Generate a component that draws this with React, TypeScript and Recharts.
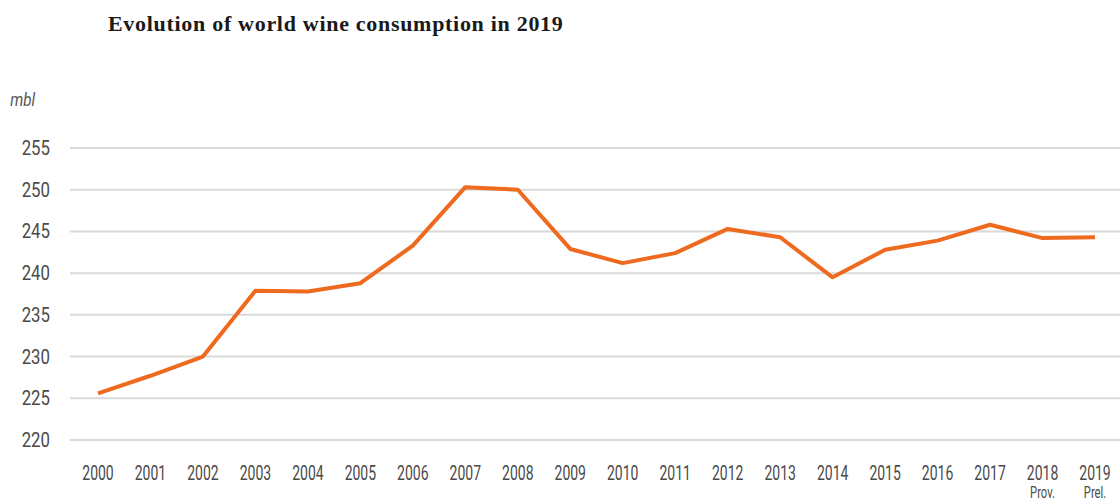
import { CartesianGrid, Line, LineChart, XAxis, YAxis } from "recharts";

const YEARS = [
  "2000", "2001", "2002", "2003", "2004", "2005", "2006", "2007", "2008", "2009",
  "2010", "2011", "2012", "2013", "2014", "2015", "2016", "2017", "2018", "2019",
];
const SUBLABELS: Record<string, string> = { "2018": "Prov.", "2019": "Prel." };
const CONSUMPTION = [
  225.6, 227.7, 230.0, 237.9, 237.8, 238.8, 243.3, 250.3, 250.0, 242.9,
  241.2, 242.4, 245.3, 244.3, 239.5, 242.8, 243.9, 245.8, 244.2, 244.3,
];
const Y_TICKS = [220, 225, 230, 235, 240, 245, 250, 255];

const data = YEARS.map((year, i) => ({ year, value: CONSUMPTION[i] }));

const ORANGE = "#ee6a1e";
const TICK_COLOR = "#4a4a4a";
const TICK_FONT = "Roboto, sans-serif";

// narrow look: squeeze the glyphs horizontally
function YearTick({ x, y, payload }: any) {
  const sub = SUBLABELS[payload.value];
  return (
    <g transform={`translate(${x},${y}) scale(0.7,1)`}>
      <text x={0} y={32} textAnchor="middle" fill={TICK_COLOR} fontSize={20} fontFamily={TICK_FONT}>
        {payload.value}
      </text>
      {sub ? (
        <text x={0} y={50} textAnchor="middle" fill={TICK_COLOR} fontSize={16} fontFamily={TICK_FONT}>
          {sub}
        </text>
      ) : null}
    </g>
  );
}

function ValueTick({ x, y, payload }: any) {
  return (
    <g transform={`translate(${x},${y}) scale(0.8,1)`}>
      <text x={0} y={0} dy={7} textAnchor="end" fill={TICK_COLOR} fontSize={21} fontFamily={TICK_FONT}>
        {payload.value}
      </text>
    </g>
  );
}

export default function App() {
  return (
    <div
      style={{
        position: "absolute",
        top: 0,
        left: 0,
        width: 1120,
        height: 502,
        background: "#fff",
        overflow: "hidden",
      }}
    >
      <div
        style={{
          position: "absolute",
          left: 108,
          top: 11,
          fontFamily: "'Liberation Serif', serif",
          fontWeight: 700,
          fontSize: 22,
          letterSpacing: 0.7,
          color: "#1a1a1a",
          whiteSpace: "nowrap",
        }}
      >
        Evolution of world wine consumption in 2019
      </div>
      <svg
        width={60}
        height={30}
        style={{ position: "absolute", left: 0, top: 85 }}
      >
        <text
          x={12}
          y={21}
          transform="scale(0.85,1)"
          fill="#555"
          fontSize={18}
          fontStyle="italic"
          fontFamily={TICK_FONT}
        >
          mbl
        </text>
      </svg>
      <LineChart
        width={1120}
        height={502}
        data={data}
        margin={{ top: 148, right: 0, bottom: 0, left: 0 }}
      >
        <CartesianGrid vertical={false} stroke="#d9d9d9" strokeWidth={2} />
        <XAxis
          dataKey="year"
          axisLine={false}
          tickLine={false}
          interval={0}
          padding={{ left: 28, right: 25 }}
          tick={<YearTick />}
          height={62}
        />
        <YAxis
          domain={[220, 255]}
          ticks={Y_TICKS}
          width={70}
          axisLine={false}
          tickLine={false}
          tickSize={0}
          tickMargin={20}
          tick={<ValueTick />}
        />
        <Line
          type="linear"
          dataKey="value"
          stroke={ORANGE}
          strokeWidth={4}
          dot={false}
          activeDot={false}
          strokeLinejoin="round"
          isAnimationActive={false}
        />
      </LineChart>
    </div>
  );
}
